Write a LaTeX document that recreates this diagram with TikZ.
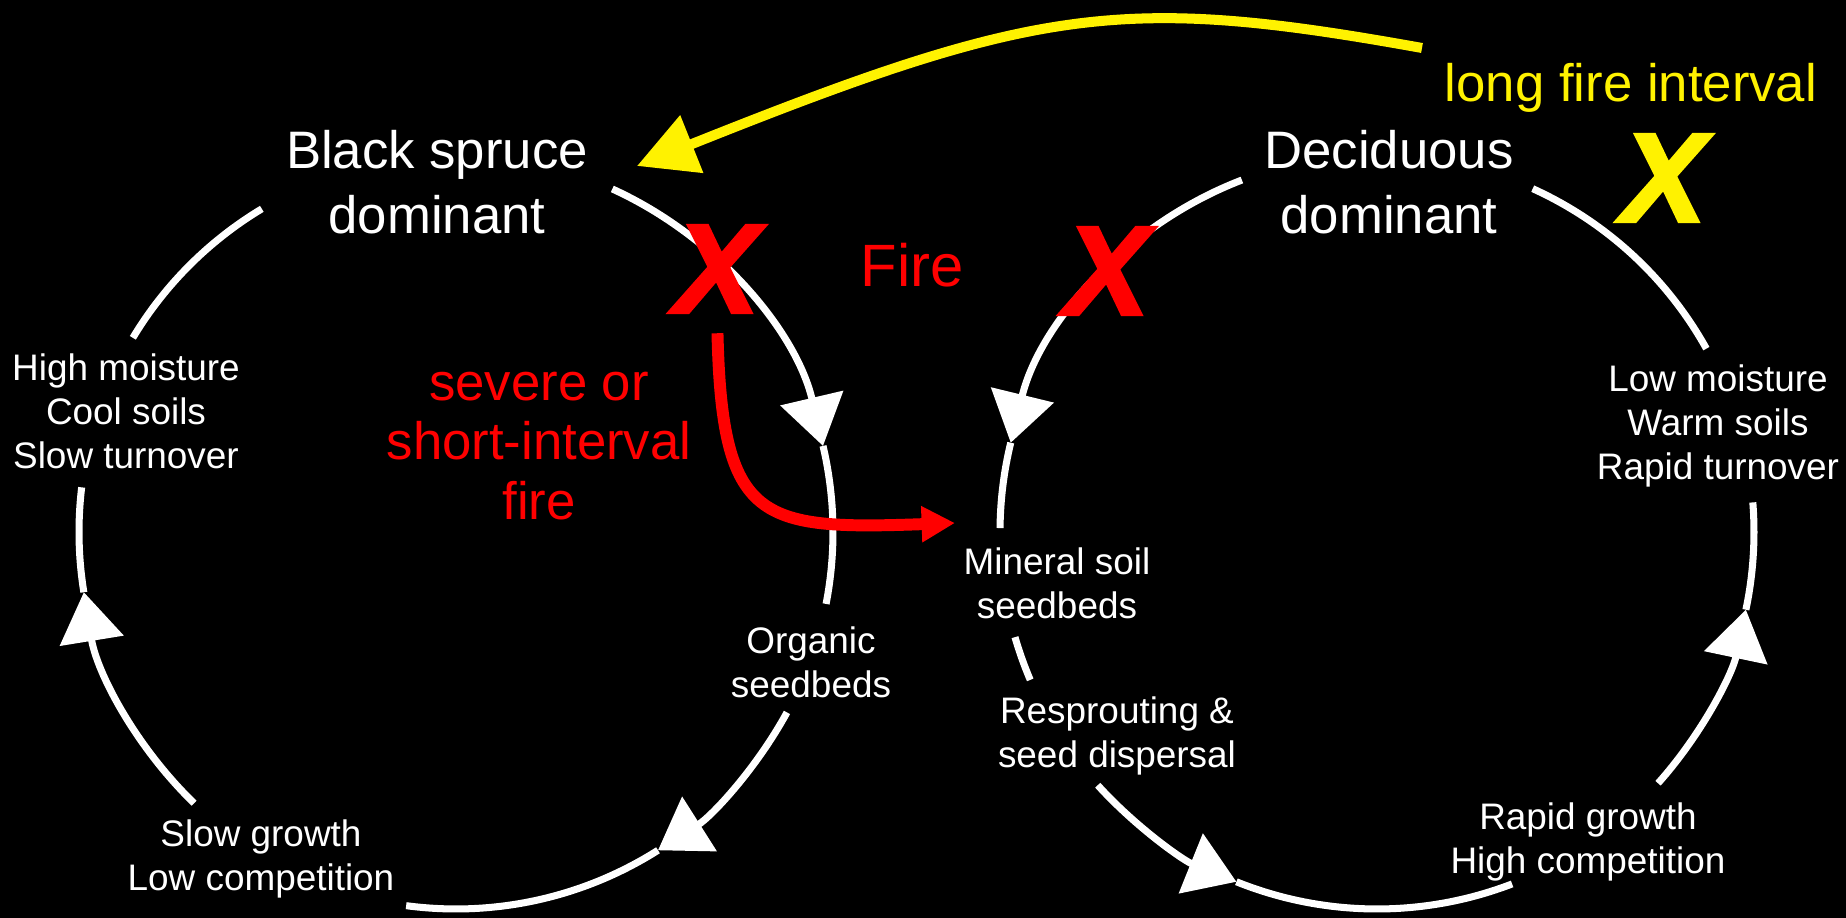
\documentclass[tikz,border=0pt]{standalone}
\usepackage{fontspec}
\setmainfont{Liberation Sans}
\newfontfamily\crossfont{Liberation Sans}[FakeBold=2.5]
\usetikzlibrary{arrows.meta}

\tikzset{
  big/.style={text=white,align=center,font=\fontsize{15}{18.4}\selectfont},
  small/.style={text=white,align=center,font=\fontsize{10.5}{12.5}\selectfont},
  ring/.style={white,line width=2pt},
  ringtip/.style={ring,-{Triangle[length=14pt,width=18pt]}},
  cross/.style={inner sep=0pt,font=\crossfont\fontsize{36}{36}\selectfont\bfseries\itshape},
}

\begin{document}
\begin{tikzpicture}
\fill[black] (0,0) rectangle (18.46,9.18);
\useasboundingbox (0,0) rectangle (18.46,9.18);
\def\R{3.77}
\coordinate (lc) at (4.56,3.86);
\coordinate (rc) at (13.77,3.86);
% black spruce cycle (clockwise)
\foreach \s/\e in {226/189.2,-28.6/-57.6,65.5/13.2}
  \draw[ringtip] ([shift={(\s:\R)}]lc) arc[start angle=\s,end angle=\e,radius=\R];
\foreach \s/\e in {189.2/173.2,-57.6/-97.6,13.2/-11,121/149}
  \draw[ring] ([shift={(\s:\R)}]lc) arc[start angle=\s,end angle=\e,radius=\R];
% deciduous cycle (counterclockwise)
\foreach \s/\e in {111/166.3,222.2/248.1,-41.8/-11.9}
  \draw[ringtip] ([shift={(\s:\R)}]rc) arc[start angle=\s,end angle=\e,radius=\R];
\foreach \s/\e in {166.3/179.4,196.2/203.1,248.1/291,-11.9/4.5,29.1/65.6}
  \draw[ring] ([shift={(\s:\R)}]rc) arc[start angle=\s,end angle=\e,radius=\R];
% labels
\node[big] (bs) at (4.37,7.36) {Black spruce\\dominant};
\node[big] (dd) at (13.89,7.36) {Deciduous\\dominant};
\node[small] (hm) at (1.26,5.07) {High moisture\\Cool soils\\Slow turnover};
\node[small] (lm) at (17.18,4.92) {Low moisture\\Warm soils\\Rapid turnover};
\node[small] (os) at (8.11,2.56) {Organic\\seedbeds};
\node[small] (ms) at (10.57,3.35) {Mineral soil\\seedbeds};
\node[small] (rs) at (11.17,1.82) {Resprouting \&\\seed dispersal};
\node[small] (sg) at (2.61,0.59) {Slow growth\\Low competition};
\node[small] (rg) at (15.88,0.76) {Rapid growth\\High competition};
\node[text=red,font=\fontsize{17}{20}\selectfont] (fire) at (9.12,6.53) {Fire};
\node[text=red,align=center,font=\fontsize{15}{17}\selectfont] (sev) at (5.39,4.72) {severe or\\short-interval\\fire};
\node[text=yellow,font=\fontsize{15}{18}\selectfont] (lfi) at (16.31,8.30) {long fire interval};
\node[cross,text=red] (x1) at (7.17,6.49) {X};
\node[cross,text=red] (x2) at (11.07,6.47) {X};
\node[cross,text=yellow] (x3) at (16.64,7.40) {X};
% fire arrows
\coordinate (lfs) at (14.22,8.70);
\coordinate (lft) at (6.37,7.52);
\draw[yellow,line width=2.85pt,-{Triangle[length=16.8pt,width=17pt]}]
  (lfs) .. controls (11.22,9.24) and (10.37,9.12) .. (lft);
\coordinate (sevtip) at (9.55,3.95);
\draw[red,line width=3.4pt,shorten <=5.7pt,-{Triangle[length=9.5pt,width=9.7pt]}]
  (x1.south) .. controls (7.22,3.95) and (7.6,3.88) .. (sevtip);
\end{tikzpicture}
\end{document}
